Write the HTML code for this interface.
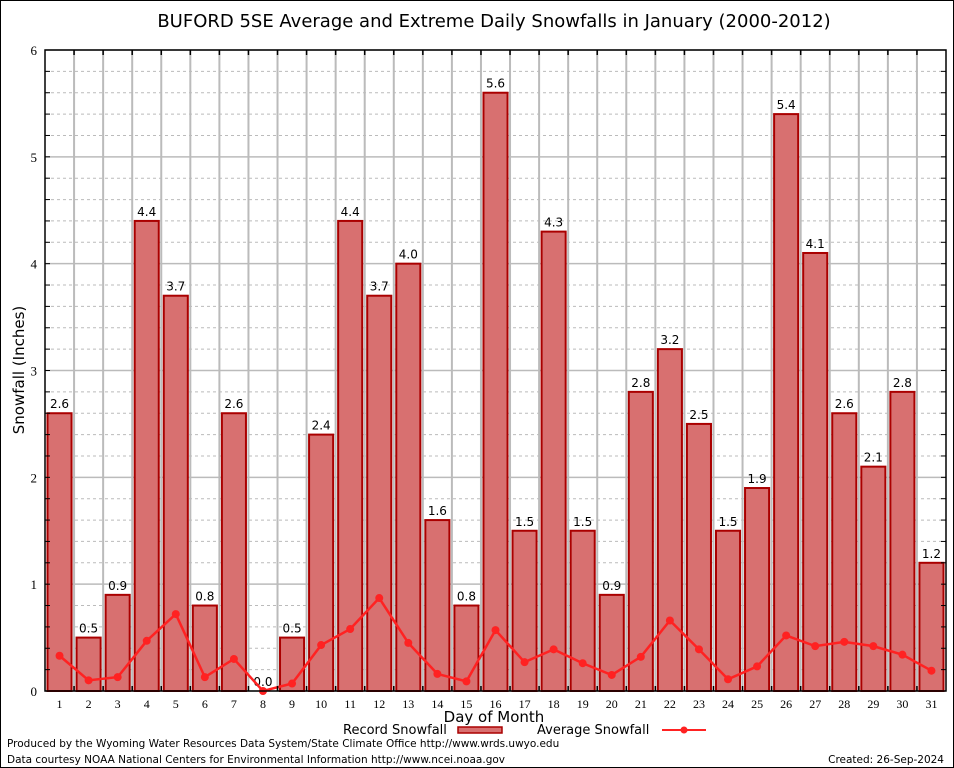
<!DOCTYPE html>
<html><head><meta charset="utf-8"><style>
body{margin:0;background:#fff;}
svg{display:block;font-family:"DejaVu Sans","Liberation Sans",sans-serif;}
</style></head><body>
<svg id="chart" width="954" height="768">
<rect x="0.5" y="0.5" width="953" height="767" fill="#fff" stroke="#000"/>
<text x="494" y="27" font-size="18" text-anchor="middle">BUFORD 5SE Average and Extreme Daily Snowfalls in January (2000-2012)</text>
<g id="grid"></g>
<g id="bars"></g>
<g id="line"></g>
<g id="axes"></g>
<text x="24" y="370" font-size="15" text-anchor="middle" transform="rotate(-90 24 370)">Snowfall (Inches)</text>
<text x="494" y="722" font-size="15" text-anchor="middle">Day of Month</text>
<g>
<text x="343" y="734" font-size="13">Record Snowfall</text>
<rect x="458" y="727" width="44" height="6" fill="#d87070" stroke="#a00" stroke-width="1.5"/>
<text x="537" y="734" font-size="13">Average Snowfall</text>
<line x1="662" y1="730" x2="706" y2="730" stroke="#f22" stroke-width="2"/>
<circle cx="684" cy="730" r="3.5" fill="#f22"/>
</g>
<text x="7" y="747" font-size="10.5">Produced by the Wyoming Water Resources Data System/State Climate Office http://www.wrds.uwyo.edu</text>
<text x="7" y="763" font-size="10.5">Data courtesy NOAA National Centers for Environmental Information http://www.ncei.noaa.gov</text>
<text x="944" y="763" font-size="10.5" text-anchor="end">Created:  26-Sep-2024</text>
</svg>
<script>
const days=[1,2,3,4,5,6,7,8,9,10,11,12,13,14,15,16,17,18,19,20,21,22,23,24,25,26,27,28,29,30,31];
const recordSnow=[2.6,0.5,0.9,4.4,3.7,0.8,2.6,0.0,0.5,2.4,4.4,3.7,4.0,1.6,0.8,5.6,1.5,4.3,1.5,0.9,2.8,3.2,2.5,1.5,1.9,5.4,4.1,2.6,2.1,2.8,1.2];
const avgSnow=[0.33,0.1,0.13,0.47,0.72,0.13,0.3,0.0,0.07,0.43,0.58,0.87,0.45,0.16,0.09,0.57,0.27,0.39,0.26,0.15,0.32,0.66,0.39,0.11,0.23,0.52,0.42,0.46,0.42,0.34,0.19];
const yTicks=[0,1,2,3,4,5,6];
const NS="http://www.w3.org/2000/svg";
const L=45,R=946,T=50,B=691,ymax=6;
const bw=(R-L)/days.length;
function xs(i){return L+bw*(i+0.5);}
function ys(v){return B-(v/ymax)*(B-T);}
function mk(tag,attrs,parent,txt){const e=document.createElementNS(NS,tag);for(const k in attrs)e.setAttribute(k,attrs[k]);if(txt!==undefined)e.textContent=txt;parent.appendChild(e);return e;}
const grid=document.getElementById('grid'),bars=document.getElementById('bars'),line=document.getElementById('line'),axes=document.getElementById('axes');
for(let m=0;m<=ymax*5;m++){const v=m/5,y=ys(v);
 if(m%5===0){const g=mk('line',{x1:L,x2:R,y1:y,y2:y,stroke:'#bbb','stroke-width':1.5},grid);
  
  }
 else{const g=mk('line',{x1:L,x2:R,y1:y,y2:y,stroke:'#bbb','stroke-width':1,'stroke-dasharray':'3,3'},grid);
  
  }
 mk('line',{x1:L,x2:L+5,y1:y,y2:y,stroke:'#000'},axes);
 mk('line',{x1:R,x2:R-5,y1:y,y2:y,stroke:'#000'},axes);
}
for(let i=1;i<days.length;i++){const x=L+bw*i;
 const g=mk('line',{x1:x,x2:x,y1:T,y2:B,stroke:'#bbb','stroke-width':2},grid);
 
 
 mk('line',{x1:x,x2:x,y1:T,y2:T+5,stroke:'#000','stroke-width':1.5},axes);
 mk('line',{x1:x,x2:x,y1:B,y2:B-5,stroke:'#000','stroke-width':1.5},axes);
}
yTicks.forEach(v=>{const t=mk('text',{x:L-8,y:ys(v)+5,'font-size':13,'text-anchor':'end','font-family':'"Liberation Serif",serif'},axes,String(v));
 
 });
days.forEach((d,i)=>{
 const v=recordSnow[i],y=ys(v),w=bw-5;
 const r=mk('rect',{x:xs(i)-w/2,y:y,width:w,height:B-y,fill:'#d87070',stroke:'#a00','stroke-width':2},bars);
 
 
 const lb=mk('text',{x:xs(i),y:y-5,'font-size':12,'text-anchor':'middle'},bars,v.toFixed(1));
 
 
 const tl=mk('text',{x:xs(i),y:B+17,'font-size':12,'text-anchor':'middle','font-family':'"Liberation Serif",serif'},axes,String(d));
 
 
});
const pts=avgSnow.map((v,i)=>xs(i)+','+ys(v)).join(' ');
const pl=mk('polyline',{points:pts,fill:'none',stroke:'#f22','stroke-width':2.5},line);


avgSnow.forEach((v,i)=>{const c=mk('circle',{cx:xs(i),cy:ys(v),r:4,fill:'#f22'},line);
 
 });
const fr=mk('rect',{x:L,y:T,width:R-L,height:B-T,fill:'none',stroke:'#000','stroke-width':1.5},axes);


</script>
</body></html>
